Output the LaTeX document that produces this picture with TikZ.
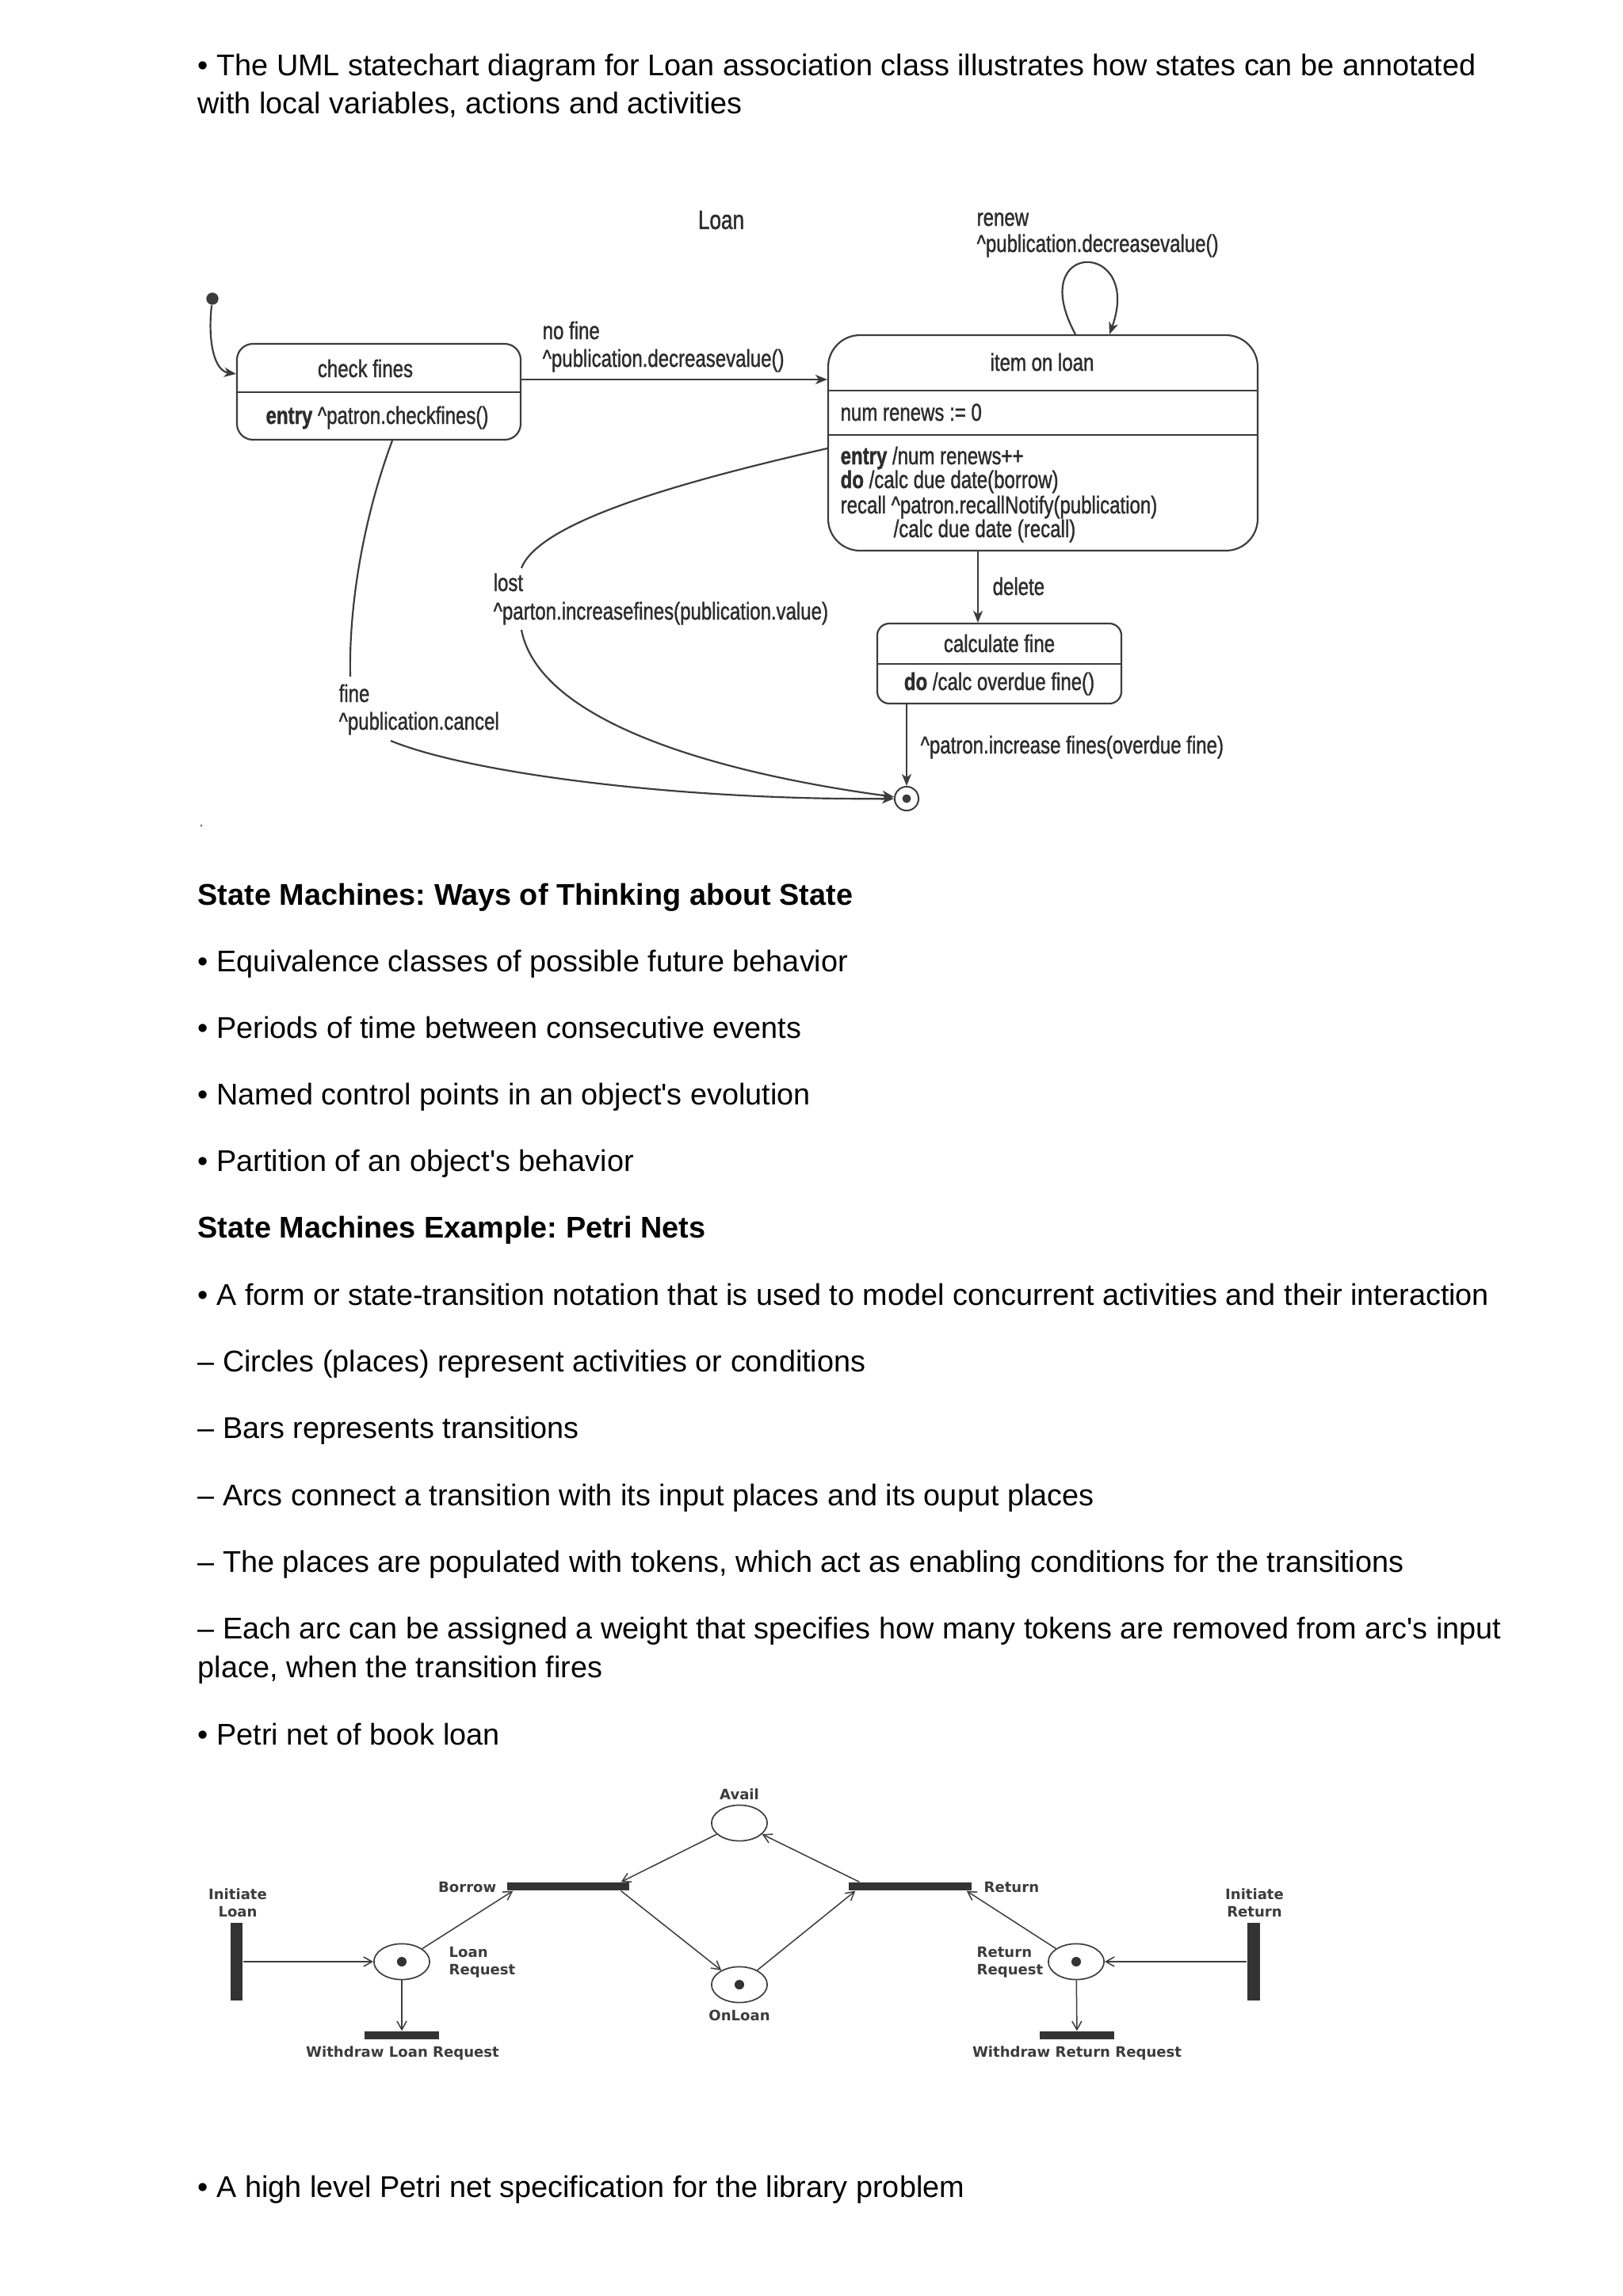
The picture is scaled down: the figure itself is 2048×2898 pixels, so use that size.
\documentclass[tikz,border=0pt]{standalone}
\usepackage{fontspec}
\setmainfont{Liberation Sans}
\newfontfamily\statefont[FakeStretch=0.78, FakeBold=1.2]{Liberation Sans}
\newfontfamily\petrifont{DejaVu Sans}
\usetikzlibrary{arrows.meta,calc,fit,shapes.geometric}

\definecolor{ink}{HTML}{3C3C3C}
\definecolor{stink}{HTML}{2C2C2C}
\definecolor{barfill}{HTML}{333333}

\tikzset{
  body/.style={anchor=base west, inner sep=0, font=\fontsize{11.3}{13}\selectfont},
  head/.style={anchor=base west, inner sep=0, font=\fontsize{11.3}{13}\selectfont\bfseries},
  statebox/.style={draw=ink, line width=0.65pt, rounded corners=6pt, inner sep=0},
  stxt/.style={text=stink, inner sep=0, font=\statefont\fontsize{9.2}{10}\selectfont},
  sline/.style={draw=ink, line width=0.65pt},
  trans/.style={sline, -{Stealth[length=4.5pt, width=3.6pt, inset=1.3pt]}},
  place/.style={ellipse, draw=ink, line width=0.5pt, minimum width=21pt, minimum height=13.5pt, inner sep=0},
  token/.style={circle, fill=barfill, inner sep=0, minimum size=3.6pt},
  bar/.style={fill=barfill, inner sep=0},
  arc/.style={draw=ink, line width=0.45pt, -{Straight Barb[length=3.2pt, width=3.6pt]}},
  ptxt/.style={text=ink, inner sep=0, align=center, font=\petrifont\bfseries\fontsize{5.4}{6.6}\selectfont},
}

\begin{document}
\frenchspacing
\begin{tikzpicture}[x=0.29883pt, y=-0.29883pt]
    \useasboundingbox[fill=white] (0,0) rectangle (2048,2898);

    % text above the statechart
    \node[body] (intro1) at (249,95) {• The UML statechart diagram for Loan association class illustrates how states can be annotated};
    \node[body] (intro2) at (249,143) {with local variables, actions and activities};

    % statechart of Loan
    \node[stxt, anchor=base, font=\statefont\fontsize{10}{11}\selectfont] (title) at (910,289) {Loan};

    \node[statebox, fit={(299,434) (657,555)}] (check) {};
    \draw[sline] (299,495) -- (657,495);
    \node[stxt, anchor=base] (chkname) at (461,476) {check fines};
    \node[stxt, anchor=base] (chkentry) at (476,535) {\textbf{entry} \textasciicircum patron.checkfines()};

    \node[statebox, rounded corners=12pt, fit={(1045,423) (1587,695)}] (item) {};
    \draw[sline] (1045,493) -- (1587,493);
    \draw[sline] (1045,549) -- (1587,549);
    \node[stxt, anchor=base] (itemname) at (1315,468) {item on loan};
    \node[stxt, anchor=base west] (itemvar) at (1060,531) {num renews := 0};
    \node[stxt, anchor=base west] (itemact1) at (1060,586) {\textbf{entry} /num renews++};
    \node[stxt, anchor=base west] (itemact2) at (1060,616) {\textbf{do} /calc due date(borrow)};
    \node[stxt, anchor=base west] (itemact3) at (1060,648) {recall \textasciicircum patron.recallNotify(publication)};
    \node[stxt, anchor=base west] (itemact4) at (1127,678) {/calc due date (recall)};

    \node[statebox, rounded corners=4.5pt, fit={(1107,787) (1415,888)}] (calc) {};
    \draw[sline] (1107,838) -- (1415,838);
    \node[stxt, anchor=base] (calcname) at (1261,823) {calculate fine};
    \node[stxt, anchor=base] (calcdo) at (1261,871) {\textbf{do} /calc overdue fine()};

    \node[circle, fill=ink, inner sep=0, minimum size=4.6pt] (init) at (268,377) {};
    \node[circle, draw=ink, line width=0.6pt, inner sep=0, minimum size=9pt] (final) at (1144,1008) {};
    \fill[ink] (final) circle[radius=5.5];

    \coordinate (nofine) at (0,479);
    \coordinate (delx) at (1234,0);
    \coordinate (lostout) at (0,566);
    \coordinate (lost1) at (658,717);
    \coordinate (lost2) at (658,795);
    \coordinate (fine1) at (442,854);
    \coordinate (fine2) at (493,935);

    \draw[trans] (init) .. controls (262,430) and (270,468) .. ($(check.north west)+(0,39)$);
    \draw[trans] (check.east |- nofine) -- (item.west |- nofine);
    \draw[trans] ($(item.north)+(41,0)$) .. controls (1292,302) and (1443,302) .. ($(item.north)+(84,0)$);
    \draw[trans] (item.south -| delx) -- (calc.north -| delx);
    \draw[trans] (calc.south -| final) -- (final);
    \draw[sline] (item.west |- lostout) .. controls (850,610) and (680,660) .. (lost1);
    \draw[trans] (lost2) .. controls (680,910) and (900,975) .. (final);
    \draw[sline] ($(check.south)+(17,0)$) .. controls (460,650) and (440,760) .. (fine1);
    \draw[trans] (fine2) .. controls (590,975) and (850,1010) .. (final);

    \node[stxt, anchor=base west] (nofinelbl) at (684,428) {no fine};
    \node[stxt, anchor=base west] (nofineact) at (684,463) {\textasciicircum publication.decreasevalue()};
    \node[stxt, anchor=base west] (renewlbl) at (1232,285) {renew};
    \node[stxt, anchor=base west] (renewact) at (1232,318) {\textasciicircum publication.decreasevalue()};
    \node[stxt, anchor=base west] (deletelbl) at (1252,751) {delete};
    \node[stxt, anchor=base west] (finesact) at (1161,951) {\textasciicircum patron.increase fines(overdue fine)};
    \node[stxt, anchor=base west] (lostlbl) at (622,746) {lost};
    \node[stxt, anchor=base west] (lostact) at (622,782) {\textasciicircum parton.increasefines(publication.value)};
    \node[stxt, anchor=base west] (finelbl) at (427,886) {fine};
    \node[stxt, anchor=base west] (fineact) at (427,921) {\textasciicircum publication.cancel};

    \fill[ink!70] (254,1042) circle[radius=1.6];

    % text between the diagrams
    \node[head] (headA) at (249,1142) {State Machines: Ways of Thinking about State};
    \node[body] (thinkA) at (249,1226) {• Equivalence classes of possible future behavior};
    \node[body] (thinkB) at (249,1310) {• Periods of time between consecutive events};
    \node[body] (thinkC) at (249,1394) {• Named control points in an object\textquotesingle s evolution};
    \node[body] (thinkD) at (249,1478) {• Partition of an object\textquotesingle s behavior};
    \node[head] (headB) at (249,1562) {State Machines Example: Petri Nets};
    \node[body] (petriA) at (249,1647) {• A form or state-transition notation that is used to model concurrent activities and their interaction};
    \node[body] (petriB) at (249,1731) {– Circles (places) represent activities or conditions};
    \node[body] (petriC) at (249,1815) {– Bars represents transitions};
    \node[body] (petriD) at (249,1900) {– Arcs connect a transition with its input places and its ouput places};
    \node[body] (petriE) at (249,1984) {– The places are populated with tokens, which act as enabling conditions for the transitions};
    \node[body] (petriF) at (249,2068) {– Each arc can be assigned a weight that specifies how many tokens are removed from arc\textquotesingle s input};
    \node[body] (petriG) at (249,2117) {place, when the transition fires};
    \node[body] (petriH) at (249,2202) {• Petri net of book loan};

    % Petri net of book loan
    \node[place] (avail) at (933,2301) {};
    \node[place] (lreq) at (507,2476) {};
    \node[place] (onloan) at (933,2505) {};
    \node[place] (rreq) at (1358,2476) {};
    \node[token] (lreqtok) at (lreq) {};
    \node[token] (onloantok) at (onloan) {};
    \node[token] (rreqtok) at (rreq) {};

    \node[bar, fit={(640,2376) (794,2386)}] (borrow) {};
    \node[bar, fit={(1071,2376) (1226,2386)}] (return) {};
    \node[bar, fit={(291,2427) (306,2525)}] (iloan) {};
    \node[bar, fit={(1574,2427) (1590,2525)}] (iret) {};
    \node[bar, fit={(460,2564) (554,2574)}] (wloan) {};
    \node[bar, fit={(1312,2564) (1406,2574)}] (wret) {};

    \draw[arc] (iloan.east) -- (lreq);
    \draw[arc] (lreq) -- ($(borrow.south west)+(8,0)$);
    \draw[arc] (lreq) -- (wloan);
    \draw[arc] (avail) -- ($(borrow.north east)+(-11,0)$);
    \draw[arc] ($(borrow.south east)+(-11,0)$) -- (onloan);
    \draw[arc] (onloan) -- ($(return.south west)+(9,0)$);
    \draw[arc] ($(return.north west)+(14,0)$) -- (avail);
    \draw[arc] (rreq) -- ($(return.south east)+(-7,0)$);
    \draw[arc] (iret.west) -- (rreq);
    \draw[arc] (rreq) -- (wret);

    \node[ptxt, anchor=base] (availlbl) at (933,2271) {Avail};
    \node[ptxt, anchor=base east] (borrowlbl) at (627,2388) {Borrow};
    \node[ptxt, anchor=base west] (returnlbl) at (1241,2388) {Return};
    \node[ptxt] (iloanlbl) at (300,2402) {Initiate\\Loan};
    \node[ptxt] (iretlbl) at (1583,2402) {Initiate\\Return};
    \node[ptxt, anchor=west, align=left] (lreqlbl) at (566,2477) {Loan\\Request};
    \node[ptxt, anchor=west, align=left] (rreqlbl) at (1232,2477) {Return\\Request};
    \node[ptxt, anchor=base] (onloanlbl) at (933,2550) {OnLoan};
    \node[ptxt, anchor=base] (wloanlbl) at (508,2596) {Withdraw Loan Request};
    \node[ptxt, anchor=base] (wretlbl) at (1359,2596) {Withdraw Return Request};

    % text below the Petri net
    \node[body] (closing) at (249,2773) {• A high level Petri net specification for the library problem};
\end{tikzpicture}
\end{document}
